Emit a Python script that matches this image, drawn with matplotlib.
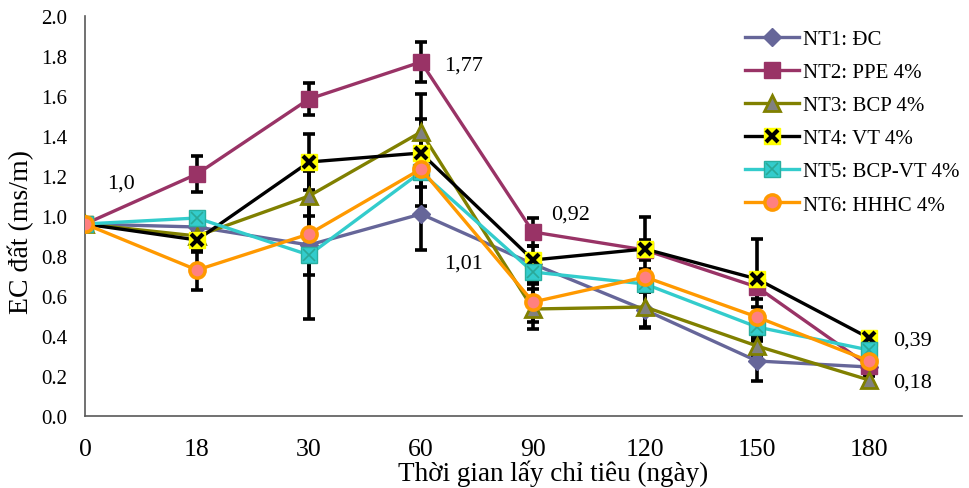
import matplotlib
matplotlib.use("Agg")
import matplotlib.pyplot as plt
from matplotlib.legend_handler import HandlerTuple
import numpy as np

days = ['0', '18', '30', '60', '90', '120', '150', '180']
nt1 = [0.96, 0.945, 0.855, 1.01, 0.76, 0.53, 0.275, 0.245]
nt2 = [0.96, 1.21, 1.585, 1.77, 0.92, 0.83, 0.645, 0.25]
nt3 = [0.96, 0.90, 1.10, 1.42, 0.535, 0.545, 0.35, 0.18]
nt4 = [0.96, 0.88, 1.27, 1.315, 0.78, 0.835, 0.685, 0.39]
nt5 = [0.96, 0.99, 0.805, 1.22, 0.72, 0.66, 0.445, 0.33]
nt6 = [0.96, 0.73, 0.91, 1.235, 0.57, 0.695, 0.495, 0.275]

err1 = [0, 0.03, 0.37, 0.18, 0.05, 0.09, 0.10, 0.03]
err2 = [0, 0.09, 0.08, 0.10, 0.07, 0.05, 0.06, 0.03]
err3 = [0, 0.03, 0.20, 0.19, 0.10, 0.10, 0.05, 0.02]
err4 = [0, 0.06, 0.14, 0.17, 0.07, 0.16, 0.20, 0.03]
err5 = [0, 0.03, 0.10, 0.17, 0.06, 0.04, 0.06, 0.03]
err6 = [0, 0.10, 0.09, 0.05, 0.10, 0.04, 0.05, 0.03]

labels = ['NT1: ĐC', 'NT2: PPE 4%', 'NT3: BCP 4%', 'NT4: VT 4%',
          'NT5: BCP-VT 4%', 'NT6: HHHC 4%']

plt.rcParams['font.family'] = ['Liberation Serif', 'DejaVu Serif']

fig = plt.figure(figsize=(9.7, 4.89), dpi=100)
ax = fig.add_axes([85/970, 1-417/489, 877/970, 400/489])
x = np.arange(len(days))

series = [nt1, nt2, nt3, nt4, nt5, nt6]
errs = [err1, err2, err3, err4, err5, err6]
for s, e in zip(series, errs):
    ax.errorbar(x, s, yerr=e, fmt='none', ecolor='black', elinewidth=2.6,
                capsize=4.5, capthick=2.6, zorder=2)

lw = 2.4
h1, = ax.plot(x, nt1, color='#666699', lw=lw, marker='D', ms=9.5,
              mfc='#666699', mec='#666699', zorder=3)
h2, = ax.plot(x, nt2, color='#993366', lw=lw, marker='s', ms=11,
              mfc='#993366', mec='#993366', zorder=3)
h3, = ax.plot(x, nt3, color='#808000', lw=lw, marker='^', ms=11,
              mfc='#808080', mec='#808000', mew=2, zorder=3)
h4a, = ax.plot(x, nt4, color='black', lw=lw, marker='s', ms=11,
               mfc='#FFFF00', mec='#FFFF00', zorder=3)
h4b, = ax.plot(x, nt4, ls='none', marker='x', ms=9, mec='black', mew=3, zorder=3)
h5a, = ax.plot(x, nt5, color='#33CCCC', lw=lw, marker='s', ms=11,
               mfc='#33CCCC', mec='#2AAFA0', mew=1, zorder=3)
h5b, = ax.plot(x, nt5, ls='none', marker='x', ms=8, mec='#2AA898', mew=1.2, zorder=3)
h6, = ax.plot(x, nt6, color='#FF9900', lw=lw, marker='o', ms=11,
              mfc='#FF8080', mec='#FF9900', mew=2.5, zorder=3)

ax.set_xlim(0, 7.83)
ax.set_ylim(0, 2.0)
yt = np.arange(0, 2.01, 0.2)
ax.set_yticks(yt)
ax.set_yticklabels([f'{v:.1f}' for v in yt])
ax.set_xticks(x)
ax.set_xticklabels(days)
ax.tick_params(axis='y', length=0, pad=13, labelsize=15)
ax.tick_params(axis='x', length=0, pad=16, labelsize=18.5)
for side in ['top', 'right']:
    ax.spines[side].set_visible(False)
for side in ['left', 'bottom']:
    ax.spines[side].set_color('#595959')
    ax.spines[side].set_linewidth(1.2)

ax.set_xlabel('Thời gian lấy chỉ tiêu (ngày)', fontsize=19.5, va='bottom')
ax.xaxis.set_label_coords((553-85)/877, -(487-417)/400)
ax.set_ylabel('EC đất (ms/m)', fontsize=20, va='center')
ax.yaxis.set_label_coords(-(85-21)/877, (417-232)/400)

ann = dict(fontsize=16, textcoords='offset pixels', va='center', ha='left')
ax.annotate('1,0', (0, nt1[0]), xytext=(22, 41), **ann)
ax.annotate('1,77', (3, nt2[3]), xytext=(23, -3), **ann)
ax.annotate('1,01', (3, nt1[3]), xytext=(23, -49), **ann)
ax.annotate('0,92', (4, nt2[4]), xytext=(18, 18), **ann)
ax.annotate('0,39', (7, nt4[7]), xytext=(24, -2), **ann)
ax.annotate('0,18', (7, nt3[7]), xytext=(24, -2), **ann)

handles = [h1, h2, h3, (h4a, h4b), (h5a, h5b), h6]
ax.legend(handles, labels, loc='upper left', bbox_to_anchor=(737/970, 1-22/489),
          bbox_transform=fig.transFigure, frameon=False, fontsize=15,
          handlelength=2.6, handletextpad=0.15, labelspacing=0.65,
          handler_map={tuple: HandlerTuple(ndivide=1)}, borderaxespad=0)

fig.savefig('out.png', dpi=100)
